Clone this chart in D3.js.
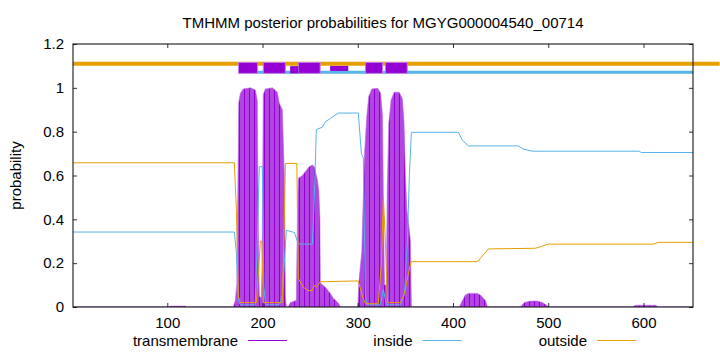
<!DOCTYPE html>
<html>
<head>
<meta charset="utf-8">
<script src="https://cdn.jsdelivr.net/npm/d3@7"></script>
<style>
  html, body { margin: 0; padding: 0; background: #fff; }
  svg { display: block; font-family: "Liberation Sans", Arial, sans-serif; }
</style>
</head>
<body>
<div id="chart"></div>
<script>
const width = 720;
const height = 352;

// ──── Data (position, probability) ────
const title = "TMHMM posterior probabilities for MGYG000004540_00714";
const seqLength = 652;

const transmembrane = [
    [1, 0], [102, 0], [103, 0.004], [119, 0.004], [120, 0],
    [169.3, 0], [171.4, 0.03], [173, 0.1], [174, 0.5], [175, 0.93], [176.7, 0.975],
    [179.8, 0.995], [187.2, 1.0], [192.5, 0.99], [194.5, 0.94], [195.6, 0.35],
    [196.6, 0.05], [198.7, 0.04], [199.6, 0.2], [200.8, 0.97], [203, 0.995],
    [210.4, 1.0], [215.5, 0.98], [217.6, 0.93], [220.8, 0.9], [222.9, 0.6],
    [224, 0.05], [225, 0], [227.1, 0], [229.2, 0.02], [235.5, 0.03], [236.6, 0.4],
    [237.6, 0.587], [241.8, 0.6], [244.8, 0.617], [249, 0.64], [252.3, 0.648],
    [254.4, 0.64], [257.6, 0.58], [259.1, 0.53], [260.2, 0.4], [260.7, 0.11],
    [267, 0.085], [271.2, 0.062], [274.4, 0.04], [279.6, 0.018], [281.7, 0],
    [300, 0], [301, 0.1], [302.6, 0.18], [304.2, 0.25], [305.8, 0.5], [307.4, 0.72],
    [309.5, 0.87], [311.5, 0.96], [314.7, 0.995], [321, 0.998], [324, 0.975],
    [326, 0.87], [327, 0.45], [328, 0.1], [330, 0.1], [331, 0.55], [332.6, 0.84],
    [335, 0.945], [338.3, 0.98], [343.5, 0.98], [346.8, 0.95], [348.5, 0.85],
    [350, 0.6], [351.6, 0.44], [353.7, 0.37], [355.3, 0.3], [356.3, 0],
    [406.7, 0], [409.3, 0.024], [413, 0.055], [416.2, 0.062], [425.6, 0.062],
    [428.8, 0.055], [434, 0.03], [436.2, 0],
    [470.8, 0], [475, 0.02], [481.3, 0.027], [488.7, 0.027], [493.9, 0.02],
    [499.2, 0.005], [501, 0],
    [588.4, 0], [591.6, 0.008], [612.6, 0.008], [615.8, 0], [652, 0]
];

const inside = [
    [1, 0.342], [170.4, 0.342], [172.5, 0.25], [174.6, 0.03], [176.7, 0.01],
    [192.3, 0.01], [194.5, 0.3], [196.6, 0.64], [199.8, 0.64], [201.4, 0.1],
    [203, 0.01], [217.6, 0.01], [220.8, 0.05], [222.9, 0.2], [225, 0.35],
    [233.4, 0.34], [236.6, 0.3], [238.7, 0.287], [252.3, 0.287], [254.4, 0.5],
    [256.5, 0.81], [262.8, 0.82], [266, 0.845], [271.2, 0.86], [279.6, 0.885],
    [300.6, 0.885], [303.8, 0.7], [305.9, 0.68], [308, 0.05], [310, 0.01],
    [323.7, 0.01], [326.9, 0.08], [330, 0.01], [344.8, 0.01], [349, 0.06],
    [352.1, 0.3], [354.2, 0.6], [356.3, 0.797], [405.7, 0.797], [410, 0.76],
    [416.2, 0.735], [468.7, 0.735], [474, 0.72], [483.4, 0.711], [594.8, 0.711],
    [598, 0.705], [652, 0.705]
];

const outside = [
    [1, 0.658], [170.4, 0.658], [172.5, 0.45], [174.6, 0.05], [176.7, 0.02],
    [193.5, 0.02], [195.6, 0.15], [197.7, 0.3], [199.3, 0.3], [200.8, 0.02],
    [220.8, 0.02], [222.9, 0.4], [224, 0.655], [236, 0.655], [237.6, 0.13],
    [242.9, 0.09], [248, 0.075], [252.3, 0.075], [254.4, 0.1], [256.5, 0.09],
    [260.7, 0.115], [300.6, 0.119], [304.8, 0.05], [308, 0.015], [321.6, 0.015],
    [324.8, 0.2], [326.9, 0.5], [329, 0.3], [331.1, 0.02], [344.8, 0.02],
    [349, 0.06], [353, 0.15], [356, 0.207], [425.7, 0.207], [437.2, 0.265],
    [486.5, 0.268], [494, 0.278], [500.2, 0.287], [610.5, 0.287], [615.8, 0.295],
    [652, 0.295]
];

// top strip: predicted topology
const tmSegments = [[174.8, 194.8], [200.8, 224], [237.6, 260.5], [308, 326], [329, 352]];
const tmMinorSegments = [[229, 237.6, 1.066, 1.099], [271, 290, 1.077, 1.1]];
const insideSegments = [[195, 652]];
const outsideSegments = [[1, 680]];

const xTicks = [100, 200, 300, 400, 500, 600];
const yTicks = [0, 0.2, 0.4, 0.6, 0.8, 1, 1.2];

const series = [
    { name: "transmembrane", color: "#9400d3" },
    { name: "inside", color: "#56b4e9" },
    { name: "outside", color: "#e69f00" }
];

// ──── Layout ────
const margin = { top: 44, right: 27, bottom: 45, left: 73 };
const plotW = width - margin.left - margin.right;
const plotH = height - margin.top - margin.bottom;
const fontSize = 15;

const x = d3.scaleLinear().domain([1, seqLength]).range([margin.left, margin.left + plotW]);
const y = d3.scaleLinear().domain([0, 1.2]).range([margin.top + plotH, margin.top]);

const svg = d3.select("#chart")
    .append("svg")
    .attr("width", width)
    .attr("height", height);

const defs = svg.append("defs");
const pat = defs.append("pattern")
    .attr("id", "tmfill")
    .attr("patternUnits", "userSpaceOnUse")
    .attr("x", margin.left + 1)
    .attr("width", 5)
    .attr("height", 10);
pat.append("rect").attr("width", 5).attr("height", 10).attr("fill", "#b146e0");
pat.append("rect").attr("x", 0).attr("width", 1).attr("height", 10).attr("fill", "#9400d3");

defs.append("clipPath").attr("id", "plotclip")
    .append("rect")
    .attr("x", margin.left).attr("y", margin.top)
    .attr("width", plotW).attr("height", plotH);

// ──── Transmembrane area ────
const area = d3.area()
    .x(d => x(d[0]))
    .y0(y(0))
    .y1(d => y(d[1]));

svg.append("path")
    .datum(transmembrane)
    .attr("clip-path", "url(#plotclip)")
    .attr("fill", "url(#tmfill)")
    .attr("stroke", "#b966e6")
    .attr("stroke-width", 0.6)
    .attr("d", area);

// ──── Inside / outside lines ────
const line = d3.line()
    .x(d => x(d[0]))
    .y(d => y(d[1]));

svg.append("path")
    .datum(inside)
    .attr("fill", "none")
    .attr("stroke", "#56b4e9")
    .attr("stroke-width", 1)
    .attr("d", line);

svg.append("path")
    .datum(outside)
    .attr("fill", "none")
    .attr("stroke", "#e69f00")
    .attr("stroke-width", 1)
    .attr("d", line);

// ──── Topology strip ────
svg.append("g").selectAll("line")
    .data(outsideSegments)
    .join("line")
    .attr("x1", d => x(d[0])).attr("x2", d => Math.min(width, x(d[1])))
    .attr("y1", y(1.11)).attr("y2", y(1.11))
    .attr("stroke", "#e69f00")
    .attr("stroke-width", 4);

svg.append("g").selectAll("line")
    .data(insideSegments)
    .join("line")
    .attr("x1", d => x(d[0])).attr("x2", d => x(d[1]))
    .attr("y1", y(1.071)).attr("y2", y(1.071))
    .attr("stroke", "#56b4e9")
    .attr("stroke-width", 3);

svg.append("g").selectAll("rect")
    .data(tmSegments)
    .join("rect")
    .attr("x", d => x(d[0]))
    .attr("width", d => x(d[1]) - x(d[0]))
    .attr("y", y(1.116))
    .attr("height", y(1.066) - y(1.116))
    .attr("fill", "#9400d3")
    .attr("stroke", "#c27fe9")
    .attr("stroke-width", 1);

svg.append("g").selectAll("rect")
    .data(tmMinorSegments)
    .join("rect")
    .attr("x", d => x(d[0]))
    .attr("width", d => x(d[1]) - x(d[0]))
    .attr("y", d => y(d[3]))
    .attr("height", d => y(d[2]) - y(d[3]))
    .attr("fill", "#9400d3");

// ──── Frame and axes ────
const fmt = d3.format("~g");
const axisFont = g => g.selectAll("text")
    .attr("font-size", fontSize)
    .attr("font-family", "Liberation Sans, Arial, sans-serif")
    .attr("fill", "#000");
const tickStyle = g => {
    g.select(".domain").remove();
    g.selectAll(".tick line").attr("stroke", "#000").attr("stroke-width", 0.8);
};

svg.append("g")
    .attr("transform", `translate(${margin.left},0)`)
    .call(d3.axisLeft(y).tickValues(yTicks).tickFormat(fmt).tickSizeInner(-4).tickPadding(9))
    .call(tickStyle).call(axisFont);

svg.append("g")
    .attr("transform", `translate(${margin.left + plotW},0)`)
    .call(d3.axisRight(y).tickValues(yTicks).tickFormat("").tickSizeInner(-4))
    .call(tickStyle);

svg.append("g")
    .attr("transform", `translate(0,${margin.top + plotH})`)
    .call(d3.axisBottom(x).tickValues(xTicks).tickFormat(fmt).tickSizeInner(-4).tickPadding(10))
    .call(tickStyle).call(axisFont);

svg.append("g")
    .attr("transform", `translate(0,${margin.top})`)
    .call(d3.axisTop(x).tickValues(xTicks).tickFormat("").tickSizeInner(-4))
    .call(tickStyle);

svg.append("rect")
    .attr("x", margin.left).attr("y", margin.top)
    .attr("width", plotW).attr("height", plotH)
    .attr("fill", "none")
    .attr("stroke", "#000")
    .attr("stroke-width", 1);

// ──── Titles ────
svg.append("text")
    .attr("x", margin.left + plotW / 2)
    .attr("y", 27.5)
    .attr("text-anchor", "middle")
    .attr("font-size", fontSize)
    .text(title);

svg.append("text")
    .attr("transform", `translate(21,${margin.top + plotH / 2}) rotate(-90)`)
    .attr("text-anchor", "middle")
    .attr("font-size", fontSize)
    .text("probability");

// ──── Legend ────
const legend = svg.append("g")
    .selectAll("g")
    .data(series)
    .join("g")
    .attr("transform", (d, i) => `translate(${248 + i * 174.5},0)`);

legend.append("text")
    .attr("x", -10)
    .attr("y", 345.5)
    .attr("text-anchor", "end")
    .attr("font-size", fontSize)
    .text(d => d.name);

legend.append("line")
    .attr("x1", 0).attr("x2", 39)
    .attr("y1", 340.5).attr("y2", 340.5)
    .attr("stroke", d => d.color)
    .attr("stroke-width", 1);
</script>
</body>
</html>
